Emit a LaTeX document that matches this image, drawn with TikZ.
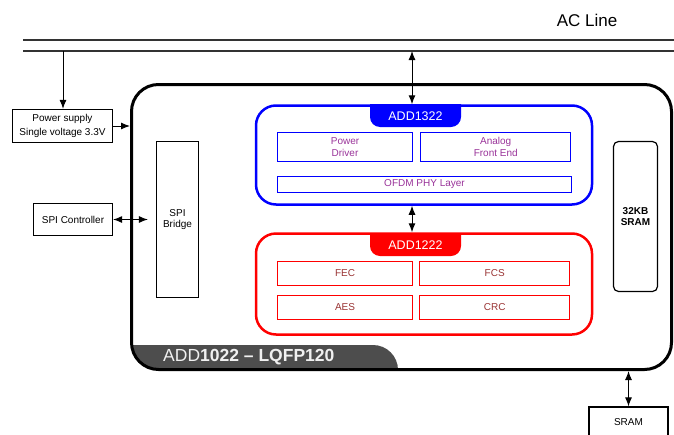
\documentclass[tikz,border=0pt]{standalone}
\usepackage{fontspec}
\setmainfont{Liberation Sans}
\usetikzlibrary{positioning}
\usetikzlibrary{arrows.meta}

\definecolor{linegray}{HTML}{333333}
\definecolor{tabgray}{HTML}{4D4D4D}
\definecolor{addblue}{HTML}{0000FF}
\definecolor{addred}{HTML}{FF0000}
\definecolor{txtpurple}{HTML}{993399}
\definecolor{txtred}{HTML}{993333}

\begin{document}
\begin{tikzpicture}[x=1pt,y=-1pt,
		every node/.style={font=\fontsize{10}{11.5}\selectfont,inner sep=0pt,align=center},
		plainbox/.style={draw=black,line width=1.2pt},
		bluebox/.style={draw=addblue,line width=1.2pt,text=txtpurple},
		redbox/.style={draw=addred,line width=1.2pt,text=txtred},
		tabtext/.style={text=white,font=\fontsize{12.5}{14}\selectfont},
		arr/.style={line width=1pt,-{Latex[length=9pt,width=7pt]}},
		biarr/.style={line width=1pt,{Latex[length=9pt,width=7pt]}-{Latex[length=9pt,width=7pt]}}]
				    \useasboundingbox (0,0) rectangle (674,434);

				    % AC line
				    \draw [linegray,line width=1.5pt] (23,40) -- (674,40);
				    \draw [linegray,line width=1.5pt] (23,51) -- (674,51);
				    \node (acline) at (587,20) {\fontsize{17}{20}\selectfont AC Line};
				    \coordinate (tap1) at (63,51);
				    \coordinate (tap2) at (412,51);

				    % Package tab (clipped to the chip outline)
				    \begin{scope}
				    \clip [rounded corners=27] (131.5,84.5) rectangle (671.5,369.5);
				    \fill [tabgray,rounded corners=25] (100,345) -- (398,345) -- (398,400) -- (100,400);
				    \end{scope}

				    % Place nodes
				    \node [draw=black,line width=3pt,rounded corners=27,minimum width=540,minimum height=285] (chip) at (401.5,227) {};
				    \node [anchor=west,text=gray!12,font=\fontsize{17.5}{20}\selectfont] (chiplabel) at (163,357) {ADD\textbf{1022 \textendash{} LQFP120}};

				    \node [plainbox,minimum width=100,minimum height=33] (pwr) at (62.5,126) {Power supply\\[2.5pt]Single voltage 3.3V};
				    \node [plainbox,minimum width=79,minimum height=32] (spic) at (73,219.5) {SPI Controller};
				    \node [plainbox,minimum width=42,minimum height=156] (bridge) at (177.5,219.5) {SPI\\Bridge};
				    \node [plainbox,rounded corners=5,minimum width=44,minimum height=150] (iram) at (635.5,216.5) {\textbf{32KB}\\\textbf{SRAM}};
				    \node [plainbox,minimum width=79,minimum height=30] (sram) at (628.5,422) {SRAM};

				    % ADD1322
				    \node [draw=addblue,line width=2.5pt,rounded corners=20,minimum width=336,minimum height=99] (add1322) at (424,155) {};
				    \fill [addblue,rounded corners=10] (370,104) -- (370,127) -- (461,127) -- (461,104);
				    \node [tabtext] (add1322tab) at (415.5,116) {ADD1322};
				    \node [bluebox,minimum width=135,minimum height=29] (pwrdrv) at (345,147) {Power\\Driver};
				    \node [bluebox,minimum width=150,minimum height=29,right=7pt of pwrdrv] (afe) {Analog\\Front End};
				    \node [bluebox,minimum width=294,minimum height=16] (ofdm) at (424.5,184.5) {OFDM PHY Layer};

				    % ADD1222
				    \node [draw=addred,line width=2.5pt,rounded corners=20,minimum width=336,minimum height=101] (add1222) at (424,284) {};
				    \fill [addred,rounded corners=10] (370,233) -- (370,256) -- (461,256) -- (461,233);
				    \node [tabtext] (add1222tab) at (415.5,245) {ADD1222};
				    \node [redbox,minimum width=135,minimum height=24] (fec) at (345,273.5) {FEC};
				    \node [redbox,minimum width=150,minimum height=24,right=6pt of fec] (fcs) {FCS};
				    \node [redbox,minimum width=135,minimum height=24,below=8.5pt of fec] (aes) {AES};
				    \node [redbox,minimum width=150,minimum height=24,below=8.5pt of fcs] (crc) {CRC};

				    % Connectors
				    \draw [arr] (tap1) -- (tap1 |- pwr.north);
				    \draw [arr] (pwr.east) -- (pwr.east -| chip.west);
				    \draw [biarr] (tap2) -- (tap2 |- add1322.north);
				    \draw [biarr] ([xshift=-12pt]add1322.south) -- ([xshift=-12pt]add1222.north);
				    \draw [biarr] (spic.east) -- ([xshift=-8pt]spic.east -| bridge.west);
				    \draw [biarr] (sram.north |- chip.south) -- (sram.north);
				\end{tikzpicture}
\end{document}
